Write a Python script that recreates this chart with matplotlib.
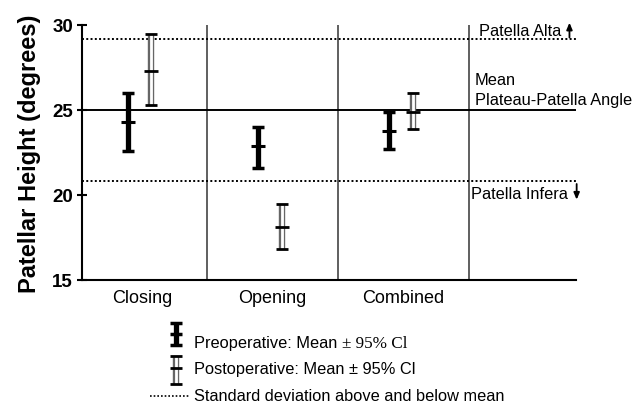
import matplotlib
matplotlib.use("Agg")
import matplotlib.pyplot as plt
import numpy as np

plt.rcParams['font.family'] = ['Liberation Sans', 'DejaVu Sans']

categories = ["Closing", "Opening", "Combined"]
pre_mean = [24.27, 22.87, 23.76]
pre_low = [22.6, 21.6, 22.72]
pre_high = [25.98, 24.02, 24.9]
post_mean = [27.3, 18.13, 24.9]
post_low = [25.26, 16.81, 23.9]
post_high = [29.49, 19.43, 26.02]
mean_angle = 25.0
sd_above = 29.15
sd_below = 20.8
yticks = [15, 20, 25, 30]

W, H = 644, 410
fig = plt.figure(figsize=(W / 100, H / 100), dpi=100)
ax = fig.add_axes([82 / W, 1 - 280.7 / H, (576 - 82) / W, (280.7 - 26) / H])

x = np.arange(len(categories))
xl, xr = -0.458, 3.32
ax.set_xlim(xl, xr)
ax.set_ylim(15, 30)

# separators
for b in [0.5, 1.5, 2.5]:
    ax.axvline(b, color='#444444', lw=1.2, zorder=1)

ax.axhline(mean_angle, color='black', lw=1.4, zorder=2)
ax.axhline(sd_above, color='black', lw=1.4, ls=(0, (1, 1.2)), zorder=2)
ax.axhline(sd_below, color='black', lw=1.4, ls=(0, (1, 1.2)), zorder=2)

pre_off, post_off = -0.11, 0.07
xp = x + pre_off
xq = x + post_off

# preoperative: solid thick bars
ax.vlines(xp, pre_low, pre_high, color='black', lw=3.8, zorder=4)
ax.plot(xp, pre_low, ls='none', marker='_', ms=8.5, mew=2.5, color='black', zorder=5)
ax.plot(xp, pre_high, ls='none', marker='_', ms=8.5, mew=2.5, color='black', zorder=5)
ax.plot(xp, pre_mean, ls='none', marker='_', ms=10, mew=2.2, color='black', zorder=5)

# postoperative: hollow bars
ax.vlines(xq, post_low, post_high, color='#666666', lw=4.6, zorder=4)
ax.vlines(xq, post_low, post_high, color='white', lw=2.0, zorder=4.5)
ax.plot(xq, post_low, ls='none', marker='_', ms=9, mew=2.0, color='black', zorder=5)
ax.plot(xq, post_high, ls='none', marker='_', ms=9, mew=2.0, color='black', zorder=5)
ax.plot(xq, post_mean, ls='none', marker='_', ms=10, mew=2.0, color='black', zorder=5)

for s in ['top', 'right']:
    ax.spines[s].set_visible(False)
ax.spines['left'].set_linewidth(1.5)
ax.spines['bottom'].set_linewidth(1.5)

ax.set_yticks(yticks)
ax.set_yticklabels([str(v) for v in yticks], fontsize=13.5, fontweight='bold')
ax.tick_params(axis='y', direction='inout', length=7, width=1.5, pad=3)
ax.set_xticks(x)
ax.set_xticklabels(categories, fontsize=13)
ax.tick_params(axis='x', length=0, pad=7)
ax.set_ylabel("Patellar Height (degrees)", fontsize=17, fontweight='bold', labelpad=8)

# annotations on right
fs = 11.8
arrow = dict(arrowstyle='-|>,head_length=0.4,head_width=0.17', color='black', lw=1.3)
ax.text(2.58, 29.68, "Patella Alta", fontsize=fs, va='center', ha='left', clip_on=False)
ax.annotate('', xy=(3.27, 30.3), xytext=(3.27, 29.1), arrowprops=arrow, annotation_clip=False)
ax.text(2.545, 26.78, "Mean", fontsize=fs, va='center', ha='left', clip_on=False)
ax.text(2.545, 25.62, "Plateau-Patella Angle", fontsize=fs, va='center', ha='left', clip_on=False)
ax.text(2.52, 20.05, "Patella Infera", fontsize=fs, va='center', ha='left', clip_on=False)
ax.annotate('', xy=(3.325, 19.55), xytext=(3.325, 20.8), arrowprops=arrow, annotation_clip=False)

# legend overlay in pixel coordinates
lg = fig.add_axes([0, 0, 1, 1])
lg.set_xlim(0, W)
lg.set_ylim(H, 0)
lg.axis('off')
lx = 176
lfs = 11.8
lg.vlines([lx], [324], [346], color='black', lw=3.8)
lg.plot([lx, lx, lx], [324, 335, 346], ls='none', marker='_', ms=8.5, mew=2.5, color='black')
t1 = lg.text(194, 344, "Preoperative: Mean ", fontsize=lfs, va='center', ha='left')
fig.canvas.draw()
bb = t1.get_window_extent()
x_end = lg.transData.inverted().transform((bb.x1, bb.y0))[0]
lg.text(x_end, 344, "\u00b1 95% Cl", fontsize=lfs + 0.5, va='center', ha='left',
        family=['Liberation Serif', 'DejaVu Serif'])
lg.vlines([lx], [357], [385], color='#666666', lw=4.6)
lg.vlines([lx], [357], [385], color='white', lw=2.0)
lg.plot([lx, lx, lx], [357, 369, 385], ls='none', marker='_', ms=9, mew=2.0, color='black')
lg.text(194, 370, "Postoperative: Mean \u00b1 95% Cl", fontsize=lfs, va='center', ha='left')
lg.plot([150, 190], [397, 397], color='black', lw=1.2, ls=(0, (1, 1.2)))
lg.text(194, 397, "Standard deviation above and below mean", fontsize=lfs, va='center', ha='left')

fig.savefig("out.png", dpi=100)
